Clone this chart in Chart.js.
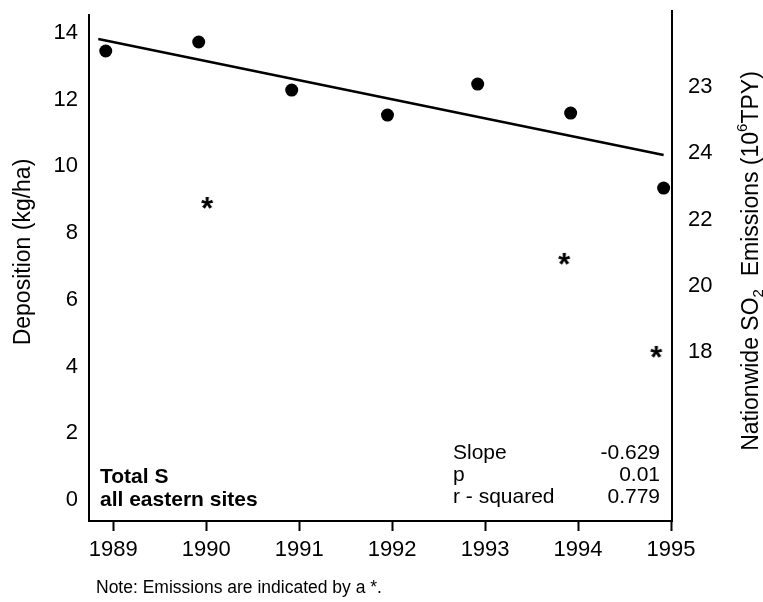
<!DOCTYPE html>
<html><head><meta charset="utf-8">
<script src="https://cdn.jsdelivr.net/npm/chart.js@4.4.0/dist/chart.umd.min.js"></script>
<style>html,body{margin:0;padding:0;background:#fff}#wrap{width:763px;height:602px;position:relative}</style>
</head><body><div id="wrap"><canvas id="c" width="763" height="602"></canvas></div>
<script>
// ---- data ----
const depositionYears = [1988.92, 1989.92, 1990.92, 1991.95, 1992.92, 1993.92, 1994.92];
const depositionValues = [13.46, 13.73, 12.29, 11.54, 12.47, 11.60, 9.35];
const emissionYears = [1990.01, 1993.85, 1994.84];
const emissionValues = [22.50, 20.81, 18.0];
const trendYears = [1988.84, 1994.92];
const trendValues = [13.82, 10.34];
const xTickValues = [1989, 1990, 1991, 1992, 1993, 1994, 1995];
const leftTickValues = [0, 2, 4, 6, 8, 10, 12, 14];
const rightTickValues = [18, 20, 22, 24, 26];
const rightTickLabels = ['18', '20', '22', '24', '23'];
const statLabels = ['Slope', 'p', 'r - squared'];
const statValues = ['-0.629', '0.01', '0.779'];
const boxLabels = ['Total S', 'all eastern sites'];
const noteText = 'Note: Emissions are indicated by a *.';
const leftTitle = 'Deposition (kg/ha)';

const FONT = '"Liberation Sans", Arial, Helvetica, sans-serif';

function makeStar() {
  const c = document.createElement('canvas');
  c.width = 26; c.height = 26;
  const g = c.getContext('2d');
  g.fillStyle = '#000';
  g.font = 'bold 31px ' + FONT;
  g.textAlign = 'center';
  g.textBaseline = 'alphabetic';
  const m = g.measureText('*');
  const base = 13 + (m.actualBoundingBoxAscent - m.actualBoundingBoxDescent) / 2;
  g.fillText('*', 13, base);
  return c;
}
const starImg = makeStar();

const textPlugin = {
  id: 'txt',
  afterDraw(chart) {
    const ctx = chart.ctx;
    const area = chart.chartArea;
    ctx.save();
    // right axis extends slightly above the plot
    ctx.strokeStyle = '#000';
    ctx.lineWidth = 2;
    ctx.beginPath();
    ctx.moveTo(area.right, area.top - 5);
    ctx.lineTo(area.right, area.top + 1);
    ctx.stroke();

    ctx.fillStyle = '#000';
    ctx.textBaseline = 'middle';
    ctx.textAlign = 'left';
    ctx.font = 'bold 21px ' + FONT;
    boxLabels.forEach((t, i) => ctx.fillText(t, 100, 477 + i * 23));
    ctx.font = '21px ' + FONT;
    statLabels.forEach((t, i) => ctx.fillText(t, 453, 453 + i * 22));
    ctx.textAlign = 'right';
    statValues.forEach((t, i) => ctx.fillText(t, 660, 453 + i * 22));
    ctx.textAlign = 'left';
    ctx.font = '17.5px ' + FONT;
    ctx.fillText(noteText, 96, 588);

    // left axis title
    ctx.save();
    ctx.translate(24, 252);
    ctx.rotate(-Math.PI / 2);
    ctx.textAlign = 'center';
    ctx.font = '23px ' + FONT;
    ctx.fillText(leftTitle, 0, 0);
    ctx.restore();

    // right axis title with sub/superscripts
    const parts = [
      ['Nationwide SO', 0, 23],
      ['2', 7, 15],
      ['  Emissions (10', 0, 23],
      ['6', -9, 15],
      ['TPY)', 0, 23]
    ];
    let total = 0;
    parts.forEach(p => { ctx.font = p[2] + 'px ' + FONT; total += ctx.measureText(p[0]).width; });
    ctx.translate(752, 261);
    ctx.rotate(-Math.PI / 2);
    ctx.textAlign = 'left';
    let u = -total / 2;
    parts.forEach(p => {
      ctx.font = p[2] + 'px ' + FONT;
      ctx.fillText(p[0], u, p[1]);
      u += ctx.measureText(p[0]).width;
    });
    ctx.restore();
  }
};

new Chart(document.getElementById('c'), {
  type: 'scatter',
  data: {
    datasets: [
      {
        label: 'Deposition',
        data: depositionYears.map((x, i) => ({ x, y: depositionValues[i] })),
        pointRadius: 6.5,
        backgroundColor: '#000',
        borderWidth: 0,
        yAxisID: 'y'
      },
      {
        label: 'Trend',
        data: trendYears.map((x, i) => ({ x, y: trendValues[i] })),
        showLine: true,
        borderColor: '#000',
        borderWidth: 2.5,
        pointRadius: 0,
        yAxisID: 'y'
      },
      {
        label: 'Emissions',
        data: emissionYears.map((x, i) => ({ x, y: emissionValues[i] })),
        pointStyle: starImg,
        pointRadius: 8,
        yAxisID: 'y2'
      }
    ]
  },
  options: {
    responsive: false,
    animation: false,
    devicePixelRatio: 1,
    layout: { padding: { top: 15, left: 0, right: 0, bottom: 0 } },
    plugins: { legend: { display: false }, tooltip: { enabled: false } },
    scales: {
      x: {
        type: 'linear',
        min: 1988.74,
        max: 1995.01,
        afterBuildTicks: s => { s.ticks = xTickValues.map(v => ({ value: v })); },
        afterFit: s => { s.height = 81; s.paddingLeft = 0; s.paddingRight = 0; },
        grid: { display: true, drawOnChartArea: false, drawTicks: true, tickLength: 10, tickWidth: 2, color: '#000' },
        border: { display: true, color: '#000', width: 2 },
        ticks: { color: '#000', font: { family: FONT, size: 22 }, padding: 6, maxRotation: 0, callback: v => String(v) }
      },
      y: {
        type: 'linear',
        position: 'left',
        min: -0.63,
        max: 14.54,
        afterBuildTicks: s => { s.ticks = leftTickValues.map(v => ({ value: v })); },
        afterFit: s => { s.width = 89; s.paddingTop = 0; s.paddingBottom = 0; },
        grid: { display: false, drawTicks: false },
        border: { display: true, color: '#000', width: 2 },
        ticks: { color: '#000', font: { family: FONT, size: 22 }, padding: 11, callback: v => String(v) }
      },
      y2: {
        type: 'linear',
        position: 'right',
        min: 12.89,
        max: 28.18,
        afterBuildTicks: s => { s.ticks = rightTickValues.map(v => ({ value: v })); },
        afterFit: s => { s.width = 91; s.paddingTop = 0; s.paddingBottom = 0; },
        grid: { display: false, drawTicks: false },
        border: { display: true, color: '#000', width: 2 },
        ticks: { color: '#000', font: { family: FONT, size: 22 }, padding: 16,
          callback: v => { const i = rightTickValues.indexOf(v); return i >= 0 ? rightTickLabels[i] : ''; } }
      }
    }
  },
  plugins: [textPlugin]
});
</script>
</body></html>
